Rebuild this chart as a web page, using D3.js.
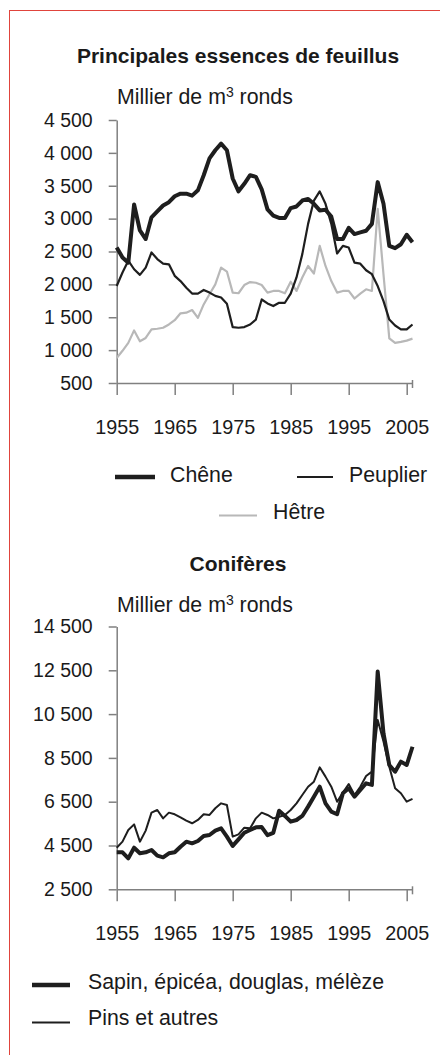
<!DOCTYPE html>
<html>
<head>
<meta charset="utf-8">
<script src="https://cdn.jsdelivr.net/npm/d3@7"></script>
<style>
  body { margin: 0; background: #fff; }
  svg text { font-family: "Liberation Sans", Arial, sans-serif; fill: #1a1a1a; }
</style>
</head>
<body>
<div id="chart"></div>
<script>
// years 1955 - 2006
const years = d3.range(1955, 2007);

// feuillus, milliers de m3 ronds
const chene = [2560, 2410, 2330, 3215, 2820, 2690, 3020, 3110, 3200, 3250,
  3340, 3380, 3380, 3350, 3430, 3660, 3915, 4040, 4140, 4040,
  3610, 3415, 3530, 3660, 3635, 3445, 3140, 3045, 3010, 3010,
  3160, 3185, 3275, 3300, 3225, 3125, 3135, 3030, 2690, 2690,
  2860, 2765, 2790, 2815, 2920, 3555, 3225, 2585, 2550, 2610,
  2755, 2640];
const peuplier = [1975, 2180, 2360, 2230, 2145, 2255, 2485, 2385, 2315, 2305,
  2130, 2050, 1950, 1860, 1860, 1915, 1875, 1825, 1800, 1705,
  1350, 1340, 1350, 1390, 1465, 1770, 1710, 1670, 1720, 1720,
  1860, 2105, 2460, 2920, 3275, 3415, 3225, 2920, 2470, 2585,
  2560, 2330, 2315, 2215, 2155, 1975, 1745, 1465, 1375, 1315,
  1315, 1390];
const hetre = [880, 990, 1110, 1300, 1135, 1185, 1315, 1325, 1340, 1390,
  1455, 1560, 1570, 1610, 1490, 1695, 1850, 2000, 2255, 2195,
  1875, 1865, 1990, 2035, 2025, 1990, 1875, 1900, 1900, 1865,
  2040, 1900, 2105, 2280, 2165, 2585, 2280, 2050, 1875, 1900,
  1900, 1785, 1860, 1925, 1900, 3150, 2150, 1180, 1110, 1125,
  1145, 1175];

// coniferes
const sapin = [4190, 4190, 3910, 4400, 4145, 4190, 4295, 4035, 3960, 4145,
  4190, 4445, 4675, 4600, 4705, 4935, 4980, 5180, 5285, 4905,
  4480, 4780, 5085, 5210, 5330, 5340, 4970, 5080, 6090, 5850,
  5590, 5665, 5850, 6275, 6730, 7185, 6425, 6045, 5925, 6885,
  7110, 6730, 7035, 7340, 7265, 12440, 9620, 8175, 7870, 8330,
  8175, 9010];
const pins = [4400, 4675, 5210, 5465, 4675, 5180, 6000, 6120, 5740, 6000,
  5925, 5785, 5635, 5515, 5665, 5925, 5895, 6200, 6425, 6350,
  4905, 5010, 5315, 5285, 5740, 6000, 5895, 5740, 5815, 5895,
  6120, 6425, 6805, 7185, 7415, 8070, 7645, 7185, 6500, 6915,
  7310, 6805, 7185, 7675, 7875, 10235, 9245, 8100, 7110, 6885,
  6500, 6625];

const xTicks = [1955, 1965, 1975, 1985, 1995, 2005];
const yTicksFeuillus = [500, 1000, 1500, 2000, 2500, 3000, 3500, 4000, 4500];
const yTicksConiferes = [2500, 4500, 6500, 8500, 10500, 12500, 14500];

const titleFeuillus = "Principales essences de feuillus";
const titleConiferes = "Conifères";
const legendFeuillus = ["Chêne", "Peuplier", "Hêtre"];
const legendConiferes = ["Sapin, épicéa, douglas, mélèze", "Pins et autres"];

const width = 440;
const height = 1055;
const fmt = d3.formatLocale({ decimal: ",", thousands: " ", grouping: [3], currency: ["", "€"] }).format(",d");

const svg = d3
  .select("#chart")
  .append("svg")
  .attr("width", width)
  .attr("height", height);

svg.append("rect").attr("width", width).attr("height", height).attr("fill", "#fff");

// red frame (open on right / bottom)
svg
  .append("rect")
  .attr("x", 9.5)
  .attr("y", 10.5)
  .attr("width", 600)
  .attr("height", 1200)
  .attr("fill", "none")
  .attr("stroke", "#e0443c")
  .attr("stroke-width", 1);

const x = d3.scaleLinear().domain([1955, 2006]).range([116.7, 412.5]);

function drawPanel(opts) {
  const y = d3.scaleLinear().domain(opts.domain).range(opts.range);
  const g = svg.append("g");

  g.append("text")
    .attr("x", 238)
    .attr("y", opts.titleY)
    .attr("text-anchor", "middle")
    .attr("font-weight", "bold")
    .attr("font-size", 21)
    .text(opts.title);

  const unit = g.append("text")
    .attr("x", 117)
    .attr("y", opts.unitY)
    .attr("font-size", 21.3);
  unit.append("tspan").text("Millier de m");
  unit.append("tspan").attr("font-size", 14).attr("dy", -7).text("3");
  unit.append("tspan").attr("dy", 7).text(" ronds");

  // y axis
  const yAxis = g
    .append("g")
    .attr("transform", `translate(${x.range()[0]},0)`)
    .call(
      d3.axisLeft(y).tickValues(opts.yTicks).tickFormat(fmt).tickSize(8).tickSizeOuter(0).tickPadding(16)
    );
  yAxis.select(".domain").attr("stroke", "#808080").attr("stroke-width", 1.5);
  yAxis.selectAll(".tick line").attr("stroke", "#808080").attr("stroke-width", 1.5);
  yAxis.selectAll(".tick text")
    .attr("font-size", 19.5)
    .attr("fill", "#1a1a1a")
    .attr("font-family", '"Liberation Sans", Arial, sans-serif');

  // x axis
  const xAxis = g
    .append("g")
    .attr("transform", `translate(0,${opts.range[0]})`)
    .call(d3.axisBottom(x).tickValues(xTicks).tickFormat(d3.format("d")).tickSize(12).tickSizeOuter(0));
  xAxis.select(".domain").attr("stroke", "#808080").attr("stroke-width", 1.5);
  xAxis.selectAll(".tick line").attr("stroke", "#808080").attr("stroke-width", 1.5);
  xAxis.selectAll(".tick text")
    .attr("y", 37)
    .attr("font-size", 19.8)
    .attr("fill", "#1a1a1a")
    .attr("font-family", '"Liberation Sans", Arial, sans-serif');
  // small end tick
  xAxis
    .append("line")
    .attr("x1", x(2006))
    .attr("x2", x(2006))
    .attr("y1", -3)
    .attr("y2", 5)
    .attr("stroke", "#808080")
    .attr("stroke-width", 1.5);

  const line = d3
    .line()
    .x((d, i) => x(years[i]))
    .y((d) => y(d));

  opts.series.forEach((s) => {
    g.append("path")
      .datum(s.values)
      .attr("d", line)
      .attr("fill", "none")
      .attr("stroke", s.color)
      .attr("stroke-width", s.width)
      .attr("stroke-linejoin", "round");
  });

  // legend
  opts.legend.forEach((l) => {
    g.append("line")
      .attr("x1", l.x1)
      .attr("x2", l.x2)
      .attr("y1", l.y)
      .attr("y2", l.y)
      .attr("stroke", l.color)
      .attr("stroke-width", l.width);
    g.append("text")
      .attr("x", l.tx)
      .attr("y", l.ty)
      .attr("font-size", 21.3)
      .text(l.label);
  });
}

drawPanel({
  title: titleFeuillus,
  titleY: 63,
  unitY: 104,
  domain: [500, 4500],
  range: [383, 120],
  yTicks: yTicksFeuillus,
  series: [
    { values: hetre, color: "#b8b8b8", width: 2.2 },
    { values: peuplier, color: "#1e1e1e", width: 2.2 },
    { values: chene, color: "#1e1e1e", width: 4 },
  ],
  legend: [
    { label: legendFeuillus[0], x1: 115, x2: 155, y: 477, tx: 170, ty: 482, color: "#1e1e1e", width: 4.5 },
    { label: legendFeuillus[1], x1: 297, x2: 333, y: 477, tx: 349, ty: 482, color: "#1e1e1e", width: 1.8 },
    { label: legendFeuillus[2], x1: 219, x2: 257, y: 515.5, tx: 273, ty: 518.5, color: "#b8b8b8", width: 2.2 },
  ],
});

drawPanel({
  title: titleConiferes,
  titleY: 571,
  unitY: 612,
  domain: [2500, 14500],
  range: [889.3, 626.5],
  yTicks: yTicksConiferes,
  series: [
    { values: pins, color: "#1e1e1e", width: 2 },
    { values: sapin, color: "#1e1e1e", width: 4 },
  ],
  legend: [
    { label: legendConiferes[0], x1: 32, x2: 70, y: 985, tx: 88, ty: 988.5, color: "#1e1e1e", width: 4.5 },
    { label: legendConiferes[1], x1: 32, x2: 70, y: 1022.5, tx: 88, ty: 1025, color: "#1e1e1e", width: 1.8 },
  ],
});
</script>
</body>
</html>
